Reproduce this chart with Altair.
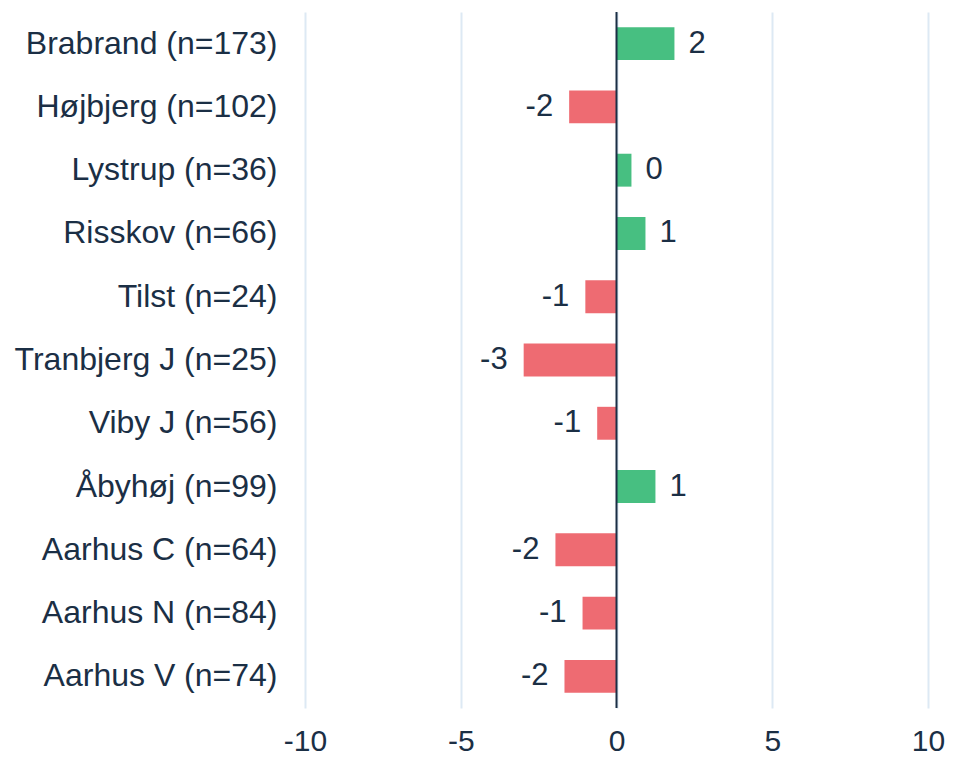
import altair as alt
import pandas as pd

areas = ["Brabrand (n=173)", "Højbjerg (n=102)", "Lystrup (n=36)", "Risskov (n=66)",
         "Tilst (n=24)", "Tranbjerg J (n=25)", "Viby J (n=56)", "Åbyhøj (n=99)",
         "Aarhus C (n=64)", "Aarhus N (n=84)", "Aarhus V (n=74)"]
values = [1.86, -1.52, 0.48, 0.93, -1.0, -2.98, -0.62, 1.25, -1.96, -1.09, -1.67]
labels = ["2", "-2", "0", "1", "-1", "-3", "-1", "1", "-2", "-1", "-2"]
ticks = [-10, -5, 0, 5, 10]

df = pd.DataFrame({"area": areas, "value": values, "label": labels})
df["sign"] = ["pos" if v >= 0 else "neg" for v in values]

TEXT = "#1b2f45"
GREEN = "#00a651"
RED = "#e8323c"
FONT = "Liberation Sans"

x_scale = alt.Scale(domain=[-10, 10], nice=False, zero=False)
y_enc = alt.Y("area:N", sort=areas,
              scale=alt.Scale(paddingInner=0.48, paddingOuter=0.24),
              axis=alt.Axis(title=None, labelFontSize=32, labelColor=TEXT,
                            labelFont=FONT, labelPadding=28, labelLimit=0,
                            ticks=False, domain=False, grid=False))

base = alt.Chart(df)

bars = base.mark_bar(opacity=0.72).encode(
    x=alt.X("value:Q", scale=x_scale,
            axis=alt.Axis(title=None, values=ticks, labelFontSize=30,
                          labelExpr="'' + datum.value", labelFlush=False,
                          labelColor=TEXT, labelFont=FONT, labelPadding=18,
                          ticks=False, domain=False, grid=True, gridColor="#dde9f4",
                          gridWidth=2)),
    x2=alt.datum(0),
    y=y_enc,
    color=alt.Color("sign:N", scale=alt.Scale(domain=["pos", "neg"], range=[GREEN, RED]),
                    legend=None),
)

pos_text = base.transform_filter(alt.datum.value >= 0).mark_text(
    align="left", baseline="middle", dx=14, fontSize=31, font=FONT, color=TEXT
).encode(x=alt.X("value:Q", scale=x_scale), y=alt.Y("area:N", sort=areas), text="label:N")

neg_text = base.transform_filter(alt.datum.value < 0).mark_text(
    align="right", baseline="middle", dx=-16, fontSize=31, font=FONT, color=TEXT
).encode(x=alt.X("value:Q", scale=x_scale), y=alt.Y("area:N", sort=areas), text="label:N")

zero = alt.Chart(pd.DataFrame({"z": [0]})).mark_rule(color=TEXT, strokeWidth=2).encode(
    x=alt.X("z:Q", scale=x_scale)
)

chart = alt.layer(bars, zero, pos_text, neg_text).properties(
    width=623, height=696,
    background="white",
    autosize=alt.AutoSizeParams(type="none"),
    padding={"left": 297, "top": 4, "right": 17, "bottom": 50},
).configure_view(strokeWidth=0, stroke=None)

chart.save("out.html", embed_options={"renderer": "svg", "actions": False})
